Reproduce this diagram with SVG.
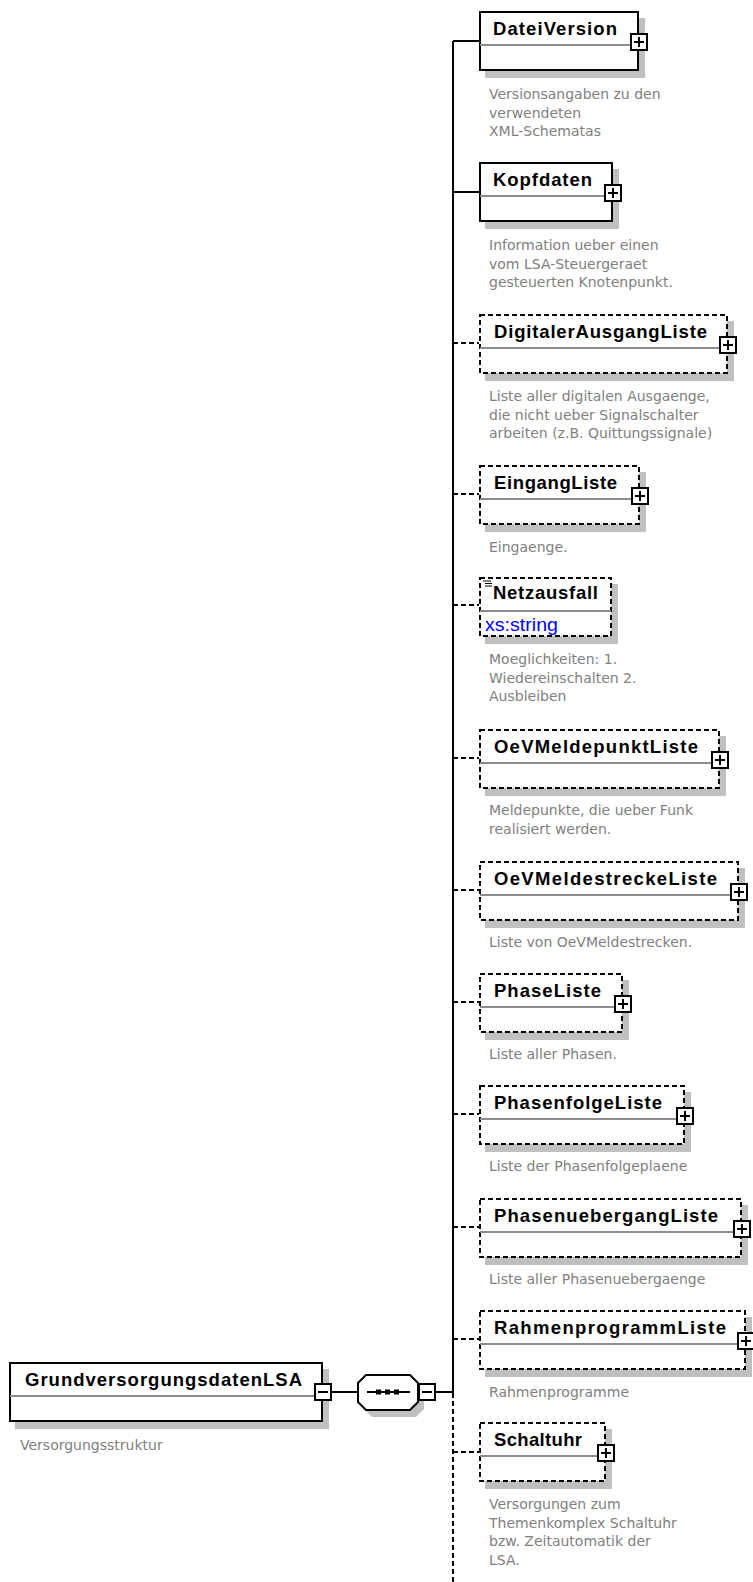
<svg xmlns="http://www.w3.org/2000/svg" width="753" height="1582" viewBox="0 0 753 1582">
<style>
.bg{fill:#ffffff}
.shadow{fill:#c0c0c0;stroke:none}
.box{fill:#ffffff;stroke:#000000;stroke-width:2}
.opt{stroke-dasharray:5,3}
.sep{stroke:#8c8c8c;stroke-width:2}
.pm{fill:#ffffff;stroke:#000000;stroke-width:2}
.pml{stroke:#000000;stroke-width:2}
.conn{stroke:#000000;stroke-width:2;fill:none}
.dash{stroke-dasharray:5,3}
.title{font-family:"Liberation Sans",Arial,sans-serif;font-weight:bold;font-size:18.5px;fill:#000000}
.desc{font-family:"DejaVu Sans",Verdana,sans-serif;font-size:14px;fill:#808080}
.type{font-family:"Liberation Sans",Arial,sans-serif;font-size:18px;fill:#0000ff}
.dot{fill:#000000}
</style>
<rect class="bg" x="0" y="0" width="753" height="1582"/>

<g id="connectors">
  <line class="conn" x1="453" y1="41" x2="453" y2="1393"/>
  <line class="conn dash" x1="453" y1="1393" x2="453" y2="1582"/>
  <line class="conn" x1="453" y1="41" x2="479" y2="41"/>
  <line class="conn" x1="453" y1="192" x2="479" y2="192"/>
  <line class="conn dash" x1="453" y1="343" x2="479" y2="343"/>
  <line class="conn dash" x1="453" y1="494" x2="479" y2="494"/>
  <line class="conn dash" x1="453" y1="605" x2="479" y2="605"/>
  <line class="conn dash" x1="453" y1="758" x2="479" y2="758"/>
  <line class="conn dash" x1="453" y1="890" x2="479" y2="890"/>
  <line class="conn dash" x1="453" y1="1002" x2="479" y2="1002"/>
  <line class="conn dash" x1="453" y1="1114" x2="479" y2="1114"/>
  <line class="conn dash" x1="453" y1="1227" x2="479" y2="1227"/>
  <line class="conn dash" x1="453" y1="1339" x2="479" y2="1339"/>
  <line class="conn dash" x1="453" y1="1452" x2="479" y2="1452"/>
  <line class="conn" x1="332" y1="1392" x2="358" y2="1392"/>
  <line class="conn" x1="435" y1="1392" x2="453" y2="1392"/>
</g>

<g id="GrundversorgungsdatenLSA">
  <rect class="shadow" x="15" y="1369" width="314" height="60"/>
  <rect class="box" x="10" y="1363" width="312" height="58"/>
  <line class="sep" x1="10" y1="1396" x2="314" y2="1396"/>
  <text class="title" x="25" y="1386" textLength="277" lengthAdjust="spacing">GrundversorgungsdatenLSA</text>
  <rect class="pm" x="315" y="1384" width="16" height="16"/>
  <line class="pml" x1="318" y1="1392" x2="328" y2="1392"/>
  <text class="desc" x="20" y="1450">Versorgungsstruktur</text>
</g>

<g id="sequence">
  <polygon class="shadow" points="372,1382 416,1382 424,1390 424,1409 416,1417 372,1417 364,1409 364,1390"/>
  <polygon class="box" points="366,1375 410,1375 418,1383 418,1402 410,1410 366,1410 358,1402 358,1383"/>
  <line class="pml" x1="367" y1="1392" x2="410" y2="1392"/>
  <rect class="dot" x="376" y="1389.5" width="5" height="5"/>
  <rect class="dot" x="385" y="1389.5" width="5" height="5"/>
  <rect class="dot" x="394" y="1389.5" width="5" height="5"/>
  <rect class="pm" x="419" y="1384" width="16" height="16"/>
  <line class="pml" x1="422" y1="1392" x2="432" y2="1392"/>
</g>

<g id="DateiVersion">
  <rect class="shadow" x="485" y="18" width="160" height="60"/>
  <rect class="box" x="480" y="12" width="158" height="58"/>
  <line class="sep" x1="480" y1="45" x2="630" y2="45"/>
  <text class="title" x="493" y="35" textLength="124" lengthAdjust="spacing">DateiVersion</text>
  <rect class="pm" x="631" y="34" width="16" height="16"/>
  <line class="pml" x1="634" y1="42" x2="644" y2="42"/>
  <line class="pml" x1="639" y1="37" x2="639" y2="47"/>
  <text class="desc" x="489" y="99">Versionsangaben zu den</text>
  <text class="desc" x="489" y="117.5">verwendeten</text>
  <text class="desc" x="489" y="136">XML-Schematas</text>
</g>

<g id="Kopfdaten">
  <rect class="shadow" x="485" y="169" width="134" height="60"/>
  <rect class="box" x="480" y="163" width="132" height="58"/>
  <line class="sep" x1="480" y1="196" x2="604" y2="196"/>
  <text class="title" x="493" y="186" textLength="99" lengthAdjust="spacing">Kopfdaten</text>
  <rect class="pm" x="605" y="185" width="16" height="16"/>
  <line class="pml" x1="608" y1="193" x2="618" y2="193"/>
  <line class="pml" x1="613" y1="188" x2="613" y2="198"/>
  <text class="desc" x="489" y="250">Information ueber einen</text>
  <text class="desc" x="489" y="268.5">vom LSA-Steuergeraet</text>
  <text class="desc" x="489" y="287">gesteuerten Knotenpunkt.</text>
</g>

<g id="DigitalerAusgangListe">
  <rect class="shadow" x="485" y="321" width="249" height="60"/>
  <rect class="box opt" x="480" y="315" width="247" height="58"/>
  <line class="sep" x1="480" y1="348" x2="719" y2="348"/>
  <text class="title" x="494" y="338" textLength="213" lengthAdjust="spacing">DigitalerAusgangListe</text>
  <rect class="pm" x="720" y="337" width="16" height="16"/>
  <line class="pml" x1="723" y1="345" x2="733" y2="345"/>
  <line class="pml" x1="728" y1="340" x2="728" y2="350"/>
  <text class="desc" x="489" y="401">Liste aller digitalen Ausgaenge,</text>
  <text class="desc" x="489" y="419.5">die nicht ueber Signalschalter</text>
  <text class="desc" x="489" y="438">arbeiten (z.B. Quittungssignale)</text>
</g>

<g id="EingangListe">
  <rect class="shadow" x="485" y="472" width="161" height="60"/>
  <rect class="box opt" x="480" y="466" width="159" height="58"/>
  <line class="sep" x1="480" y1="499" x2="631" y2="499"/>
  <text class="title" x="494" y="489" textLength="123" lengthAdjust="spacing">EingangListe</text>
  <rect class="pm" x="632" y="488" width="16" height="16"/>
  <line class="pml" x1="635" y1="496" x2="645" y2="496"/>
  <line class="pml" x1="640" y1="491" x2="640" y2="501"/>
  <text class="desc" x="489" y="552">Eingaenge.</text>
</g>

<g id="Netzausfall">
  <rect class="shadow" x="485" y="584" width="133" height="60"/>
  <rect class="box opt" x="480" y="578" width="131" height="58"/>
  <line class="sep" x1="480" y1="611" x2="611" y2="611"/>
  <line stroke="#000000" stroke-width="1" x1="483" y1="581" x2="491" y2="581"/>
  <line stroke="#000000" stroke-width="1" x1="485" y1="583.5" x2="492" y2="583.5"/>
  <line stroke="#000000" stroke-width="1" x1="485" y1="586" x2="492" y2="586"/>
  <text class="title" x="493" y="599" textLength="105" lengthAdjust="spacing">Netzausfall</text>
  <text class="type" x="485" y="631" textLength="73" lengthAdjust="spacingAndGlyphs">xs:string</text>
  <text class="desc" x="489" y="664">Moeglichkeiten: 1.</text>
  <text class="desc" x="489" y="682.5">Wiedereinschalten 2.</text>
  <text class="desc" x="489" y="701">Ausbleiben</text>
</g>

<g id="OeVMeldepunktListe">
  <rect class="shadow" x="485" y="736" width="241" height="60"/>
  <rect class="box opt" x="480" y="730" width="239" height="58"/>
  <line class="sep" x1="480" y1="763" x2="711" y2="763"/>
  <text class="title" x="494" y="753" textLength="204" lengthAdjust="spacing">OeVMeldepunktListe</text>
  <rect class="pm" x="712" y="752" width="16" height="16"/>
  <line class="pml" x1="715" y1="760" x2="725" y2="760"/>
  <line class="pml" x1="720" y1="755" x2="720" y2="765"/>
  <text class="desc" x="489" y="815">Meldepunkte, die ueber Funk</text>
  <text class="desc" x="489" y="833.5">realisiert werden.</text>
</g>

<g id="OeVMeldestreckeListe">
  <rect class="shadow" x="485" y="868" width="260" height="60"/>
  <rect class="box opt" x="480" y="862" width="258" height="58"/>
  <line class="sep" x1="480" y1="895" x2="730" y2="895"/>
  <text class="title" x="494" y="885" textLength="223" lengthAdjust="spacing">OeVMeldestreckeListe</text>
  <rect class="pm" x="731" y="884" width="16" height="16"/>
  <line class="pml" x1="734" y1="892" x2="744" y2="892"/>
  <line class="pml" x1="739" y1="887" x2="739" y2="897"/>
  <text class="desc" x="489" y="947">Liste von OeVMeldestrecken.</text>
</g>

<g id="PhaseListe">
  <rect class="shadow" x="485" y="980" width="144" height="60"/>
  <rect class="box opt" x="480" y="974" width="142" height="58"/>
  <line class="sep" x1="480" y1="1007" x2="614" y2="1007"/>
  <text class="title" x="494" y="997" textLength="107" lengthAdjust="spacing">PhaseListe</text>
  <rect class="pm" x="615" y="996" width="16" height="16"/>
  <line class="pml" x1="618" y1="1004" x2="628" y2="1004"/>
  <line class="pml" x1="623" y1="999" x2="623" y2="1009"/>
  <text class="desc" x="489" y="1059">Liste aller Phasen.</text>
</g>

<g id="PhasenfolgeListe">
  <rect class="shadow" x="485" y="1092" width="206" height="60"/>
  <rect class="box opt" x="480" y="1086" width="204" height="58"/>
  <line class="sep" x1="480" y1="1119" x2="676" y2="1119"/>
  <text class="title" x="494" y="1109" textLength="168" lengthAdjust="spacing">PhasenfolgeListe</text>
  <rect class="pm" x="677" y="1108" width="16" height="16"/>
  <line class="pml" x1="680" y1="1116" x2="690" y2="1116"/>
  <line class="pml" x1="685" y1="1111" x2="685" y2="1121"/>
  <text class="desc" x="489" y="1171">Liste der Phasenfolgeplaene</text>
</g>

<g id="PhasenuebergangListe">
  <rect class="shadow" x="485" y="1205" width="263" height="60"/>
  <rect class="box opt" x="480" y="1199" width="261" height="58"/>
  <line class="sep" x1="480" y1="1232" x2="733" y2="1232"/>
  <text class="title" x="494" y="1222" textLength="224" lengthAdjust="spacing">PhasenuebergangListe</text>
  <rect class="pm" x="734" y="1221" width="16" height="16"/>
  <line class="pml" x1="737" y1="1229" x2="747" y2="1229"/>
  <line class="pml" x1="742" y1="1224" x2="742" y2="1234"/>
  <text class="desc" x="489" y="1284">Liste aller Phasenuebergaenge</text>
</g>

<g id="RahmenprogrammListe">
  <rect class="shadow" x="485" y="1317" width="267" height="60"/>
  <rect class="box opt" x="480" y="1311" width="265" height="58"/>
  <line class="sep" x1="480" y1="1344" x2="737" y2="1344"/>
  <text class="title" x="494" y="1334" textLength="232" lengthAdjust="spacing">RahmenprogrammListe</text>
  <rect class="pm" x="738" y="1333" width="16" height="16"/>
  <line class="pml" x1="741" y1="1341" x2="751" y2="1341"/>
  <line class="pml" x1="746" y1="1336" x2="746" y2="1346"/>
  <text class="desc" x="489" y="1397">Rahmenprogramme</text>
</g>

<g id="Schaltuhr">
  <rect class="shadow" x="485" y="1429" width="127" height="60"/>
  <rect class="box opt" x="480" y="1423" width="125" height="58"/>
  <line class="sep" x1="480" y1="1456" x2="597" y2="1456"/>
  <text class="title" x="494" y="1446" textLength="88" lengthAdjust="spacing">Schaltuhr</text>
  <rect class="pm" x="598" y="1445" width="16" height="16"/>
  <line class="pml" x1="601" y1="1453" x2="611" y2="1453"/>
  <line class="pml" x1="606" y1="1448" x2="606" y2="1458"/>
  <text class="desc" x="489" y="1509">Versorgungen zum</text>
  <text class="desc" x="489" y="1527.5">Themenkomplex Schaltuhr</text>
  <text class="desc" x="489" y="1546">bzw. Zeitautomatik der</text>
  <text class="desc" x="489" y="1564.5">LSA.</text>
</g>
</svg>
